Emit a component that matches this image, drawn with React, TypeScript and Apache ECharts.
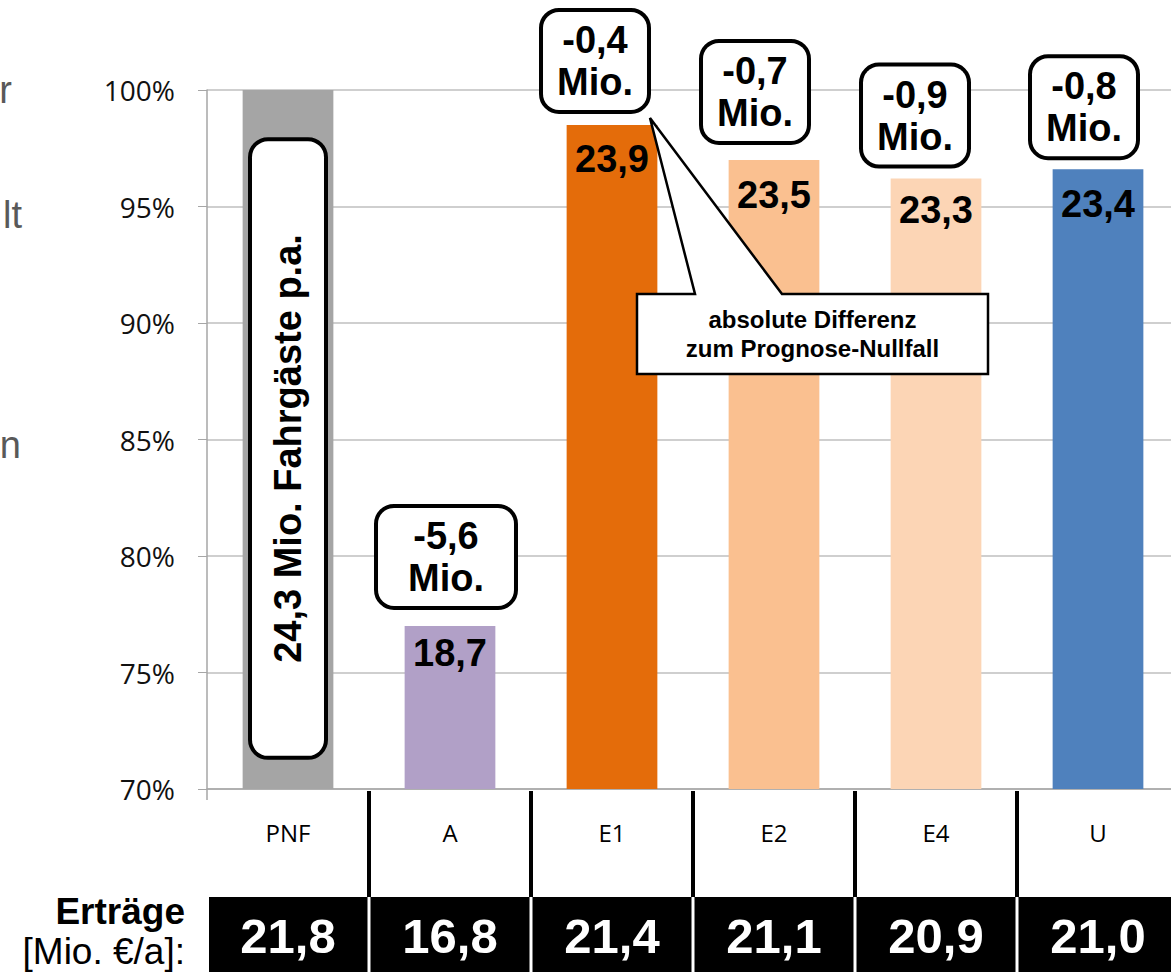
import React, { useEffect, useRef } from "react";
import * as echarts from "echarts";

// ---- data ----
const categories = ["PNF", "A", "E1", "E2", "E4", "U"];
// share of passengers relative to the Prognose-Nullfall (%)
const shareValues = [100, 77.0, 98.5, 97.0, 96.2, 96.6];
// passengers p.a. (Mio.) shown inside the bars
const passengerLabels = ["24,3 Mio. Fahrgäste p.a.", "18,7", "23,9", "23,5", "23,3", "23,4"];
// absolute difference to the Prognose-Nullfall
const differenceLabels = ["", "-5,6\nMio.", "-0,4\nMio.", "-0,7\nMio.", "-0,9\nMio.", "-0,8\nMio."];
// revenue row
const revenueLabels = ["21,8", "16,8", "21,4", "21,1", "20,9", "21,0"];
const yMin = 70;
const yMax = 100;
const yInterval = 5;

// ---- styles ----
const barColors = ["#A5A5A5", "#B1A0C7", "#E46C0A", "#FAC090", "#FCD5B5", "#4F81BD"];
const valueLabelDistance = [0, 8, 15, 16, 12, 16];
const calloutOffsetX = [0, -4, -17, -19, -21, -14];
const calloutDistance = [0, 20, 15, 19, 14, 13];
const calloutPadX = [0, 30, 14, 14, 14, 14];
const BOLD = '"Liberation Sans", Arial, sans-serif';
const LABEL_FONT = '"Open Sans", sans-serif';

export default function App() {
  const ref = useRef<HTMLDivElement>(null);

  useEffect(() => {
    if (!ref.current) return;
    const chart = echarts.init(ref.current, null, { renderer: "svg" });

    const option: any = {
      animation: false,
      grid: {
        left: 207,
        top: 90,
        width: 972,
        height: 699,
        containLabel: false,
        outerBoundsMode: "none",
      },
      xAxis: {
        type: "category",
        data: categories,
        axisLine: { lineStyle: { color: "#A6A6A6", width: 1.5 } },
        axisTick: { show: false },
        axisLabel: { color: "#000", fontSize: 24, fontFamily: LABEL_FONT, margin: 31 },
      },
      yAxis: {
        type: "value",
        min: yMin,
        max: yMax,
        interval: yInterval,
        axisLine: { show: true, lineStyle: { color: "#A6A6A6", width: 1.5 } },
        axisTick: { show: true, length: 9, lineStyle: { color: "#A6A6A6" } },
        splitLine: { lineStyle: { color: "#BFBFBF", width: 1.5 } },
        axisLabel: {
          color: "#111",
          fontSize: 28,
          fontFamily: LABEL_FONT,
          margin: 32,
          formatter: (v: number) => `${v}%`,
        },
      },
      series: [
        {
          type: "bar",
          barCategoryGap: "44%",
          data: shareValues.map((v, i) => ({
            value: v,
            itemStyle: { color: barColors[i] },
            label: {
              show: i > 0,
              position: "insideTop",
              distance: valueLabelDistance[i],
              formatter: () => passengerLabels[i],
              color: "#000",
              fontSize: 38,
              fontWeight: "bold",
              fontFamily: BOLD,
            },
          })),
          z: 2,
        },
        {
          type: "bar",
          barGap: "-100%",
          barCategoryGap: "44%",
          silent: true,
          z: 5,
          data: shareValues.map((v, i) => {
            const common = {
              show: true,
              color: "#000",
              fontSize: 38,
              fontWeight: "bold",
              fontFamily: BOLD,
              lineHeight: 42,
              align: "center",
              backgroundColor: "#fff",
              borderColor: "#000",
              borderWidth: 4,
              borderRadius: 16,
            };
            if (i === 0) {
              return {
                value: v,
                itemStyle: { color: "rgba(0,0,0,0)" },
                label: {
                  ...common,
                  position: "inside",
                  rotate: 90,
                  formatter: () => passengerLabels[0],
                  padding: [17, 93, 17, 93],
                  lineHeight: 38,
                  offset: [-9, 0],
                },
              };
            }
            return {
              value: v,
              itemStyle: { color: "rgba(0,0,0,0)" },
              label: {
                ...common,
                position: "top",
                distance: calloutDistance[i],
                offset: [calloutOffsetX[i], 0],
                padding: [7, calloutPadX[i], 7, calloutPadX[i]],
                formatter: () => differenceLabels[i],
              },
            };
          }),
        },
      ],
    };
    chart.setOption(option);

    const centers = categories.map((_, i) => chart.convertToPixel({ xAxisIndex: 0 }, i) as number);
    const band = centers[1] - centers[0];
    const yBottom = chart.convertToPixel({ yAxisIndex: 0 }, yMin) as number;
    const e1Top = chart.convertToPixel({ yAxisIndex: 0 }, shareValues[2]) as number;
    const rowTop = yBottom + 108;
    const rowH = 75;

    const graphics: any[] = [];
    // category separators
    for (let i = 1; i < categories.length; i++) {
      const x = centers[i] - band / 2;
      graphics.push({
        type: "line",
        z: 100,
        shape: { x1: x, y1: yBottom + 2, x2: x, y2: rowTop },
        style: { stroke: "#000", lineWidth: 4 },
      });
    }
    // small cross at the axis origin
    const x0 = centers[0] - band / 2;
    graphics.push({
      type: "line",
      z: 100,
      shape: { x1: x0, y1: yBottom, x2: x0, y2: yBottom + 11 },
      style: { stroke: "#A6A6A6", lineWidth: 1.5 },
    });
    // revenue row
    categories.forEach((_, i) => {
      const left = centers[i] - band / 2 + (i === 0 ? 2 : 1.5);
      const right = centers[i] + band / 2 - 1.5;
      graphics.push({
        type: "rect",
        z: 100,
        shape: { x: left, y: rowTop, width: right - left, height: rowH },
        style: { fill: "#000" },
      });
      graphics.push({
        type: "text",
        z: 101,
        x: centers[i],
        y: rowTop + rowH / 2 + 1,
        style: {
          text: revenueLabels[i],
          fill: "#fff",
          fontSize: 49,
          fontWeight: "bold",
          fontFamily: BOLD,
          align: "center",
          verticalAlign: "middle",
          textAlign: "center",
          textVerticalAlign: "middle",
        },
      });
    });
    // row title
    graphics.push({
      type: "text",
      z: 101,
      x: 185,
      y: 911,
      style: {
        text: "Erträge",
        fill: "#000",
        fontSize: 37,
        fontWeight: "bold",
        fontFamily: BOLD,
        align: "right",
        verticalAlign: "middle",
        textAlign: "right",
        textVerticalAlign: "middle",
      },
    });
    graphics.push({
      type: "text",
      z: 101,
      x: 185,
      y: 951,
      style: {
        text: "[Mio. €/a]:",
        fill: "#000",
        fontSize: 37,
        fontFamily: BOLD,
        align: "right",
        verticalAlign: "middle",
        textAlign: "right",
        textVerticalAlign: "middle",
      },
    });
    // remnants of slide text at the left edge
    [
      { t: "r", x: 12, y: 90 },
      { t: "lt", x: 22, y: 215 },
      { t: "n", x: 21, y: 445 },
    ].forEach((o) => {
      graphics.push({
        type: "text",
        z: 101,
        x: o.x,
        y: o.y,
        style: {
          text: o.t,
          fill: "#595959",
          fontSize: 38,
          fontFamily: BOLD,
          align: "right",
          verticalAlign: "middle",
          textAlign: "right",
          textVerticalAlign: "middle",
        },
      });
    });
    // callout "absolute Differenz"
    const bx1 = 637, bx2 = 988, by1 = 294, by2 = 374;
    const tipX = centers[2] + 38;
    const tipY = e1Top - 7;
    graphics.push({
      type: "polygon",
      z: 110,
      shape: {
        points: [
          [bx1, by1],
          [695, by1],
          [tipX, tipY],
          [782, by1],
          [bx2, by1],
          [bx2, by2],
          [bx1, by2],
        ],
      },
      style: { fill: "#fff", stroke: "#000", lineWidth: 2.5, lineJoin: "miter" },
    });
    graphics.push({
      type: "text",
      z: 111,
      x: (bx1 + bx2) / 2,
      y: (by1 + by2) / 2,
      style: {
        text: "absolute Differenz\nzum Prognose-Nullfall",
        fill: "#000",
        fontSize: 24,
        fontWeight: "bold",
        fontFamily: BOLD,
        lineHeight: 29,
        align: "center",
        verticalAlign: "middle",
        textAlign: "center",
        textVerticalAlign: "middle",
      },
    });

    chart.setOption({ graphic: { elements: graphics } });

    return () => chart.dispose();
  }, []);

  return (
    <div
      ref={ref}
      style={{ position: "absolute", left: 0, top: 0, width: 1171, height: 974, background: "#fff" }}
    />
  );
}
